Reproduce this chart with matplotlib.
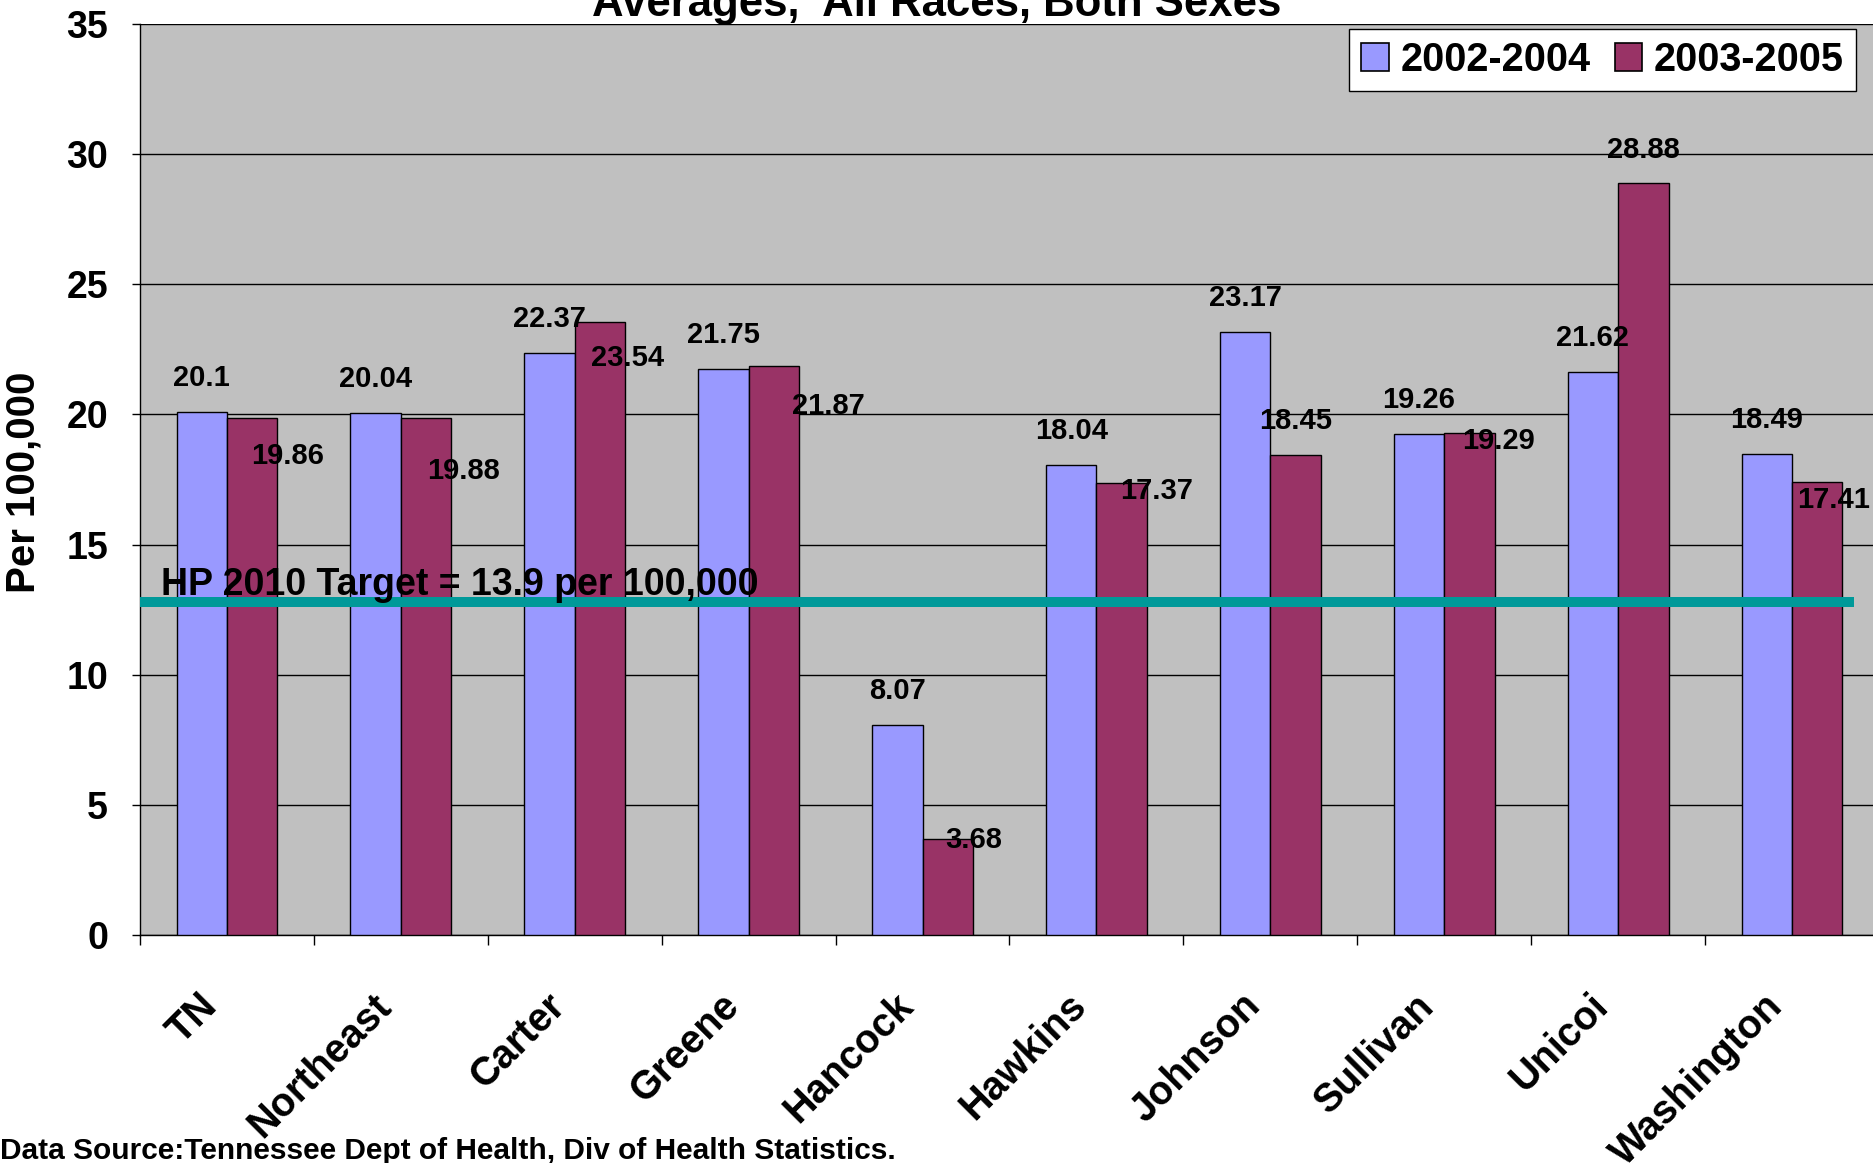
import matplotlib
matplotlib.use("Agg")
import matplotlib.pyplot as plt
import matplotlib.transforms as mtransforms
from matplotlib.patches import Patch
import numpy as np

plt.rcParams['font.family'] = ['Liberation Sans', 'DejaVu Sans']
plt.rcParams['font.weight'] = 'bold'

categories = ["TN", "Northeast", "Carter", "Greene", "Hancock", "Hawkins",
              "Johnson", "Sullivan", "Unicoi", "Washington"]
series_names = ["2002-2004", "2003-2005"]
rates_2002_2004 = [20.1, 20.04, 22.37, 21.75, 8.07, 18.04, 23.17, 19.26, 21.62, 18.49]
rates_2003_2005 = [19.86, 19.88, 23.54, 21.87, 3.68, 17.37, 18.45, 19.29, 28.88, 17.41]
target_label = "HP 2010 Target = 13.9 per 100,000"
target_line_value = 12.8
y_ticks = [0, 5, 10, 15, 20, 25, 30, 35]

# label offsets (points) for the second series, as in the original layout
red_offsets = [(25.8, -27.5), (26.7, -38.7), (19.8, -25.4), (39.6, -29.2), (18.9, -0.9),
               (25, -6), (0, 24), (20.6, -6), (0, 24), (12, -12.9)]

W, H = 1874, 1163
fig = plt.figure(figsize=(W / 100, H / 100), dpi=100)
ax = fig.add_axes([140 / W, 1 - 935 / H, (1879 - 140) / W, (935 - 24) / H])
ax.set_facecolor('#C0C0C0')

x = np.arange(len(categories))
bw = 0.29
c1, c2 = '#9999FF', '#993366'
ax.bar(x - bw / 2, rates_2002_2004, bw, color=c1, edgecolor='black', linewidth=1.0, zorder=3)
ax.bar(x + bw / 2, rates_2003_2005, bw, color=c2, edgecolor='black', linewidth=1.0, zorder=3)

ax.set_xlim(-0.5, len(categories) - 0.5)
ax.set_ylim(0, 35)
ax.set_yticks(y_ticks)
ax.yaxis.grid(True, color='black', linewidth=1.0, zorder=0)
ax.set_axisbelow(True)
for s in ['top', 'right']:
    ax.spines[s].set_visible(False)
ax.spines['left'].set_linewidth(1.0)
ax.spines['bottom'].set_linewidth(1.0)
ax.tick_params(axis='y', labelsize=27, length=6, width=1, pad=17)
for lab in ax.get_yticklabels():
    lab.set_fontweight('bold')

ax.set_xticks(x)
ax.set_xticklabels(categories, rotation=45, ha='right', va='top',
                   rotation_mode='anchor', fontsize=28.5, fontweight='bold')
ax.tick_params(axis='x', which='major', length=0, pad=37)
ax.set_xticks(np.arange(-0.5, len(categories) - 0.4, 1.0), minor=True)
ax.tick_params(axis='x', which='minor', length=7, width=1)
off = mtransforms.ScaledTranslation(-21 / 72, 0, fig.dpi_scale_trans)
for lab in ax.get_xticklabels():
    lab.set_transform(lab.get_transform() + off)

# data labels
for i in range(len(categories)):
    ax.annotate(f"{rates_2002_2004[i]:g}", (x[i] - bw / 2, rates_2002_2004[i]),
                xytext=(0, 24.5), textcoords='offset points', ha='center', va='center',
                fontsize=21, fontweight='bold', zorder=5)
    dx, dy = red_offsets[i]
    ax.annotate(f"{rates_2003_2005[i]:g}", (x[i] + bw / 2, rates_2003_2005[i]),
                xytext=(dx, dy), textcoords='offset points', ha='center', va='center',
                fontsize=21, fontweight='bold', zorder=5)

# target line
ax.plot([-0.5, 9.356], [target_line_value, target_line_value], color='#009999',
        linewidth=7.2, solid_capstyle='butt', zorder=4)
ax.text(-0.379, 13.06, target_label, fontsize=27, fontweight='bold',
        ha='left', va='baseline', zorder=6)

# legend
handles = [Patch(facecolor=c1, edgecolor='black', linewidth=1.2),
           Patch(facecolor=c2, edgecolor='black', linewidth=1.2)]
leg = fig.legend(handles, series_names, loc='upper right',
                 bbox_to_anchor=(1856 / W, 1 - 29 / H), ncol=2, fontsize=28.5,
                 frameon=True, fancybox=False, framealpha=1, edgecolor='black',
                 handlelength=0.7, handleheight=0.7, handletextpad=0.3,
                 columnspacing=0.6, borderpad=0.3, borderaxespad=0)
leg.get_frame().set_linewidth(1.0)
for t in leg.get_texts():
    t.set_fontweight('bold')

# y label
fig.text(24 / W, 1 - 482 / H, "Per 100,000", rotation=90, ha='center', va='center',
         fontsize=29, fontweight='bold')

# title (partially cut off at top)
fig.text(0.5, 1 - 16 / H, "Averages,  All Races, Both Sexes", ha='center', va='baseline',
         fontsize=31.5, fontweight='bold')

# footer
fig.text(0, 1 - 1159 / H, "Data Source:Tennessee Dept of Health, Div of Health Statistics.",
         ha='left', va='baseline', fontsize=21.5, fontweight='bold')

fig.savefig('out.png', dpi=100)
